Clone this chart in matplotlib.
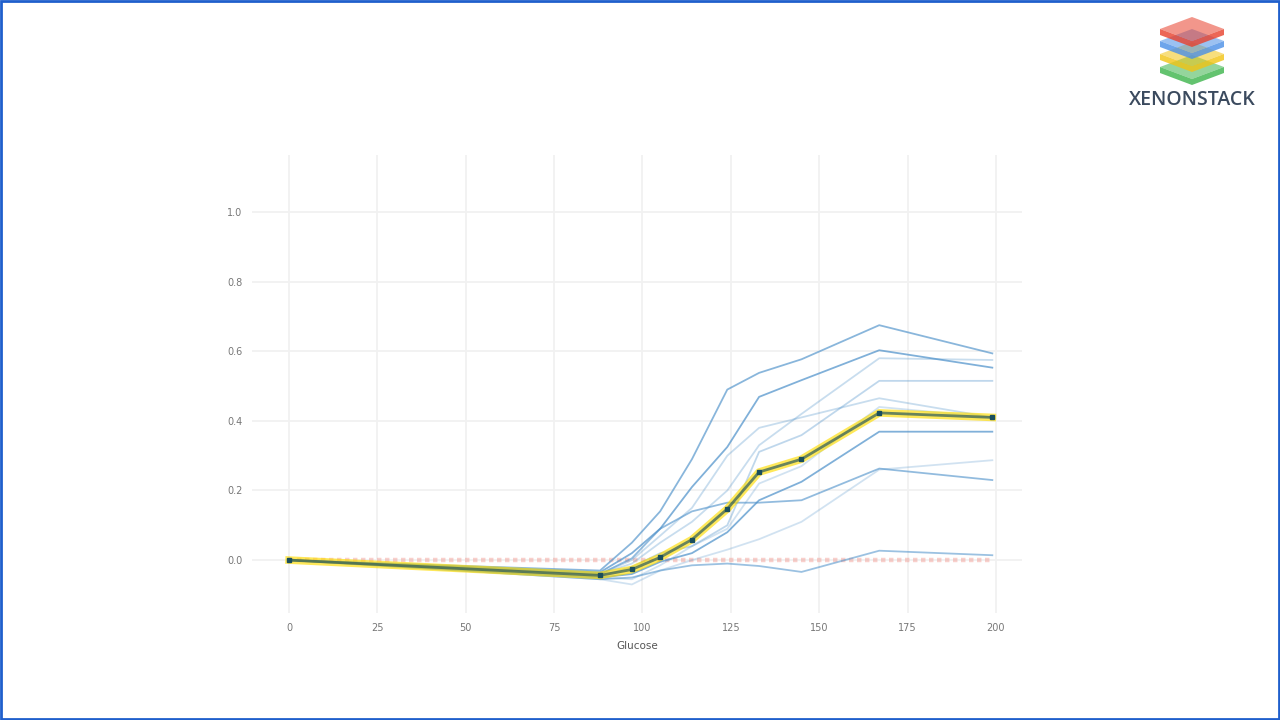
import numpy as np
import matplotlib.pyplot as plt
from matplotlib.patches import Polygon, Rectangle

# Grid de Glucose y curva PDP
glucose_grid = [0, 88, 97, 105, 114, 124, 133, 145, 167, 199]
pdp_values = [0.0, -0.044, -0.027, 0.008, 0.059, 0.147, 0.253, 0.290, 0.423, 0.410]

# Curvas ICE
ice_1 = [0, -0.030, 0.050, 0.140, 0.290, 0.490, 0.538, 0.577, 0.675, 0.594]
ice_2 = [0, -0.035, 0.020, 0.090, 0.210, 0.325, 0.469, 0.517, 0.603, 0.553]
ice_3 = [0, -0.040, -0.010, 0.050, 0.110, 0.200, 0.330, 0.420, 0.580, 0.575]
ice_4 = [0, -0.045, -0.020, 0.020, 0.040, 0.100, 0.311, 0.359, 0.515, 0.515]
ice_5 = [0, -0.040, 0.000, 0.070, 0.150, 0.300, 0.380, 0.410, 0.465, 0.410]
ice_6 = [0, -0.050, -0.040, -0.005, 0.020, 0.080, 0.172, 0.225, 0.369, 0.369]
ice_7 = [0, -0.040, 0.005, 0.090, 0.140, 0.165, 0.165, 0.172, 0.263, 0.230]
ice_8 = [0, -0.055, -0.070, -0.030, 0.000, 0.030, 0.060, 0.110, 0.260, 0.287]
ice_9 = [0, -0.055, -0.050, -0.030, -0.015, -0.010, -0.017, -0.034, 0.027, 0.014]
ice_10 = [0, -0.050, -0.055, -0.015, 0.040, 0.090, 0.220, 0.270, 0.440, 0.410]
ice_lines = [ice_1, ice_2, ice_3, ice_4, ice_5, ice_6, ice_7, ice_8, ice_9, ice_10]
ice_alpha = [0.65, 0.7, 0.3, 0.35, 0.3, 0.7, 0.6, 0.25, 0.55, 0.25]

x_ticks = [0, 25, 50, 75, 100, 125, 150, 175, 200]
y_ticks = [0.0, 0.2, 0.4, 0.6, 0.8, 1.0]

fig = plt.figure(figsize=(12.8, 7.2), dpi=100)
fig.patch.set_facecolor('white')

ax = fig.add_axes([252 / 1280, 107 / 720, 770 / 1280, 458 / 720])
ax.set_facecolor('white')

for line, a in zip(ice_lines, ice_alpha):
    ax.plot(glucose_grid, line, color='#4a8fc9', alpha=a, linewidth=1.3, zorder=2)

# linea de referencia en cero
ax.plot([glucose_grid[0], glucose_grid[-1]], [0, 0], linestyle=(0, (1, 0.8)), color='#f08a80',
        alpha=0.4, linewidth=3.2, dash_capstyle='butt', zorder=1)

# PDP
ax.plot(glucose_grid, pdp_values, color='#FEDC00', linewidth=5.5, alpha=0.65, zorder=3)
ax.plot(glucose_grid, pdp_values, color='#1A4E5D', linewidth=2, alpha=0.65, zorder=4)
ax.plot(glucose_grid, pdp_values, linestyle='none', marker='s', markersize=3,
        color='#1A4E5D', zorder=5)

ax.set_xlim(-10.5, 207.4)
ax.set_ylim(-0.152, 1.164)
ax.set_xticks(x_ticks)
ax.set_yticks(y_ticks)
ax.set_yticklabels([f"{v:.1f}" for v in y_ticks])
ax.grid(True, color='#f1f1f1', linewidth=1.3, zorder=0)
ax.set_axisbelow(True)
for s in ax.spines.values():
    s.set_visible(False)
ax.tick_params(axis='both', length=0, labelsize=7, labelcolor='#777777', pad=7)
ax.set_xlabel("Glucose", fontsize=7.5, color='#555555', labelpad=6)

# capa para logo y borde en pixeles
bg = fig.add_axes([0, 0, 1, 1], zorder=-1)
bg.set_xlim(0, 1280)
bg.set_ylim(720, 0)
bg.axis('off')
bg.add_patch(Rectangle((1, 1), 1278, 718, fill=False, edgecolor='#1f5fcc', linewidth=2))

fg = fig.add_axes([0, 0, 1, 1], zorder=5)
fg.set_xlim(0, 1280)
fg.set_ylim(720, 0)
fg.axis('off')

cx = 1192
layers = [(67, '#3cb44b'), (54, '#f2c313'), (41, '#4a8fe7'), (29, '#e8412c')]
hw, hh, th = 32, 12, 6
for cy, col in layers:
    side = Polygon([(cx - hw, cy), (cx, cy + hh), (cx + hw, cy), (cx + hw, cy + th),
                    (cx, cy + hh + th), (cx - hw, cy + th)], closed=True,
                   facecolor=col, edgecolor='none', alpha=0.8)
    top = Polygon([(cx - hw, cy), (cx, cy - hh), (cx + hw, cy), (cx, cy + hh)], closed=True,
                  facecolor=col, edgecolor='none', alpha=0.55)
    fg.add_patch(side)
    fg.add_patch(top)
fg.text(1192, 100, "XENONSTACK", ha='center', va='center', fontsize=14,
        color='#3b4a5e', fontweight='semibold', family=['Open Sans', 'DejaVu Sans'])

fig.savefig("out.png", dpi=100, facecolor='white')
